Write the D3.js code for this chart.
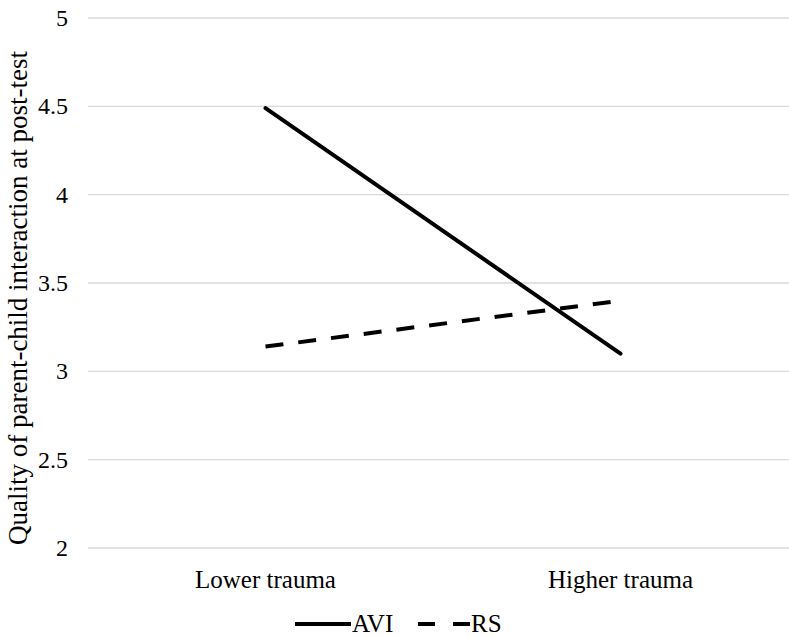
<!DOCTYPE html>
<html lang="en">
<head>
  <meta charset="UTF-8" />
  <title>Parent-child interaction</title>
  <script src="https://d3js.org/d3.v7.min.js"></script>
  <style>
    body { margin: 0; padding: 0; background: #fff; }
    svg { display: block; }
    svg text { font-family: "Liberation Serif", "Times New Roman", serif; fill: #000; }
    .grid line { stroke: #d9d9d9; stroke-width: 1.3px; }
  </style>
</head>
<body>
  <svg width="789" height="637"></svg>

  <script>
    const categories = ["Lower trauma", "Higher trauma"];
    const yTicks = [2, 2.5, 3, 3.5, 4, 4.5, 5];
    const seriesNames = ["AVI", "RS"];
    const aviValues = [4.49, 3.10];
    const rsValues = [3.14, 3.40];

    const series = [
      { name: seriesNames[0], values: aviValues, dash: null, cap: "round" },
      { name: seriesNames[1], values: rsValues, dash: "18,15", cap: "butt" }
    ];

    const svg = d3.select("svg");
    const plotLeft = 88, plotRight = 798, plotTop = 18, plotBottom = 548;

    const x = d3.scalePoint()
      .domain(categories)
      .range([plotLeft, plotRight])
      .padding(0.5);

    const y = d3.scaleLinear()
      .domain([2, 5])
      .range([plotBottom, plotTop]);

    // gridlines
    svg.append("g").attr("class", "grid")
      .selectAll("line")
      .data(yTicks)
      .enter().append("line")
      .attr("x1", plotLeft).attr("x2", plotRight)
      .attr("y1", d => y(d)).attr("y2", d => y(d));

    // y tick labels
    svg.append("g")
      .selectAll("text")
      .data(yTicks)
      .enter().append("text")
      .attr("x", plotLeft - 20)
      .attr("y", d => y(d))
      .attr("dy", "0.34em")
      .attr("text-anchor", "end")
      .style("font-size", "24px")
      .text(d => d3.format("")(d));

    // category labels
    svg.append("g")
      .selectAll("text")
      .data(categories)
      .enter().append("text")
      .attr("x", d => x(d))
      .attr("y", 588)
      .attr("text-anchor", "middle")
      .style("font-size", "25px")
      .text(d => d);

    // y axis title
    svg.append("text")
      .attr("transform", `translate(27,298) rotate(-90)`)
      .attr("text-anchor", "middle")
      .style("font-size", "27px")
      .text("Quality of parent-child interaction at post-test");

    // lines
    const line = d3.line()
      .x((d, i) => x(categories[i]))
      .y(d => y(d));

    svg.selectAll(".series")
      .data(series)
      .enter().append("path")
      .attr("class", "series")
      .attr("d", d => line(d.values))
      .attr("fill", "none")
      .attr("stroke", "#000")
      .attr("stroke-width", 4)
      .attr("stroke-linecap", d => d.cap)
      .attr("stroke-dasharray", d => d.dash);

    // legend
    const legend = svg.append("g").attr("transform", "translate(295,624)");
    const items = [
      { s: series[0], x: 0, len: 56 },
      { s: series[1], x: 123, len: 52 }
    ];
    items.forEach(it => {
      const g = legend.append("g").attr("transform", `translate(${it.x},0)`);
      g.append("line")
        .attr("x1", 0).attr("x2", it.len).attr("y1", 0).attr("y2", 0)
        .attr("stroke", "#000").attr("stroke-width", 4)
        .attr("stroke-dasharray", it.s.dash ? "17,18" : null);
      g.append("text")
        .attr("x", it.len + 1).attr("y", 8)
        .style("font-size", "25px")
        .text(it.s.name);
    });
  </script>
</body>
</html>
